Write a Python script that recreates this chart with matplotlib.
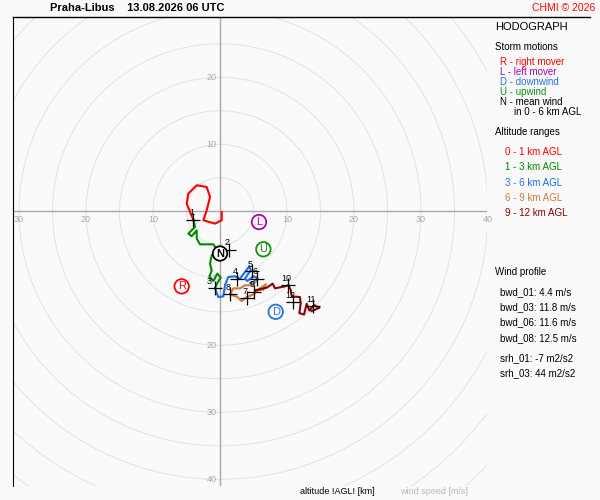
import matplotlib
matplotlib.use("Agg")
import matplotlib.pyplot as plt
import numpy as np

plt.rcParams["font.family"] = ["Liberation Sans", "DejaVu Sans"]

# hodograph segments (u, v) in m/s
seg_0_1_u = [0.25, 0.25, -0.75, -2.49, -1.99, -1.49, -1.99, -3.48, -4.73, -4.97, -4.48, -3.98]
seg_0_1_v = [-0.1, -1.34, -1.84, -1.34, 0.15, 2.14, 3.63, 3.88, 2.64, 1.15, -0.1, -1.24]
seg_1_3_u = [-3.98, -3.73, -4.73, -4.23, -3.48, -3.48, -2.99, -0.99, -0.5, -1.24, -1.49, -1.24,
             -1.59, -0.99, -0.4, 0.1, -0.4, -0.75]
seg_1_3_v = [-1.24, -2.34, -3.33, -3.73, -2.84, -4.08, -4.93, -4.93, -5.72, -6.57, -7.81, -8.81,
             -9.8, -10.4, -9.3, -9.9, -10.7, -11.5]
seg_3_6_u = [-0.75, -0.25, 0.5, 0.75, 1.24, 2.24, 2.99, 3.73, 4.38, 4.58, 3.73, 4.08, 4.98, 5.57,
             5.22, 4.48, 5.47]
seg_3_6_v = [-11.5, -12.8, -12.7, -11.0, -9.8, -9.7, -10.05, -9.06, -8.2, -8.8, -10.05, -10.4,
             -9.7, -9.9, -10.55, -10.7, -10.3]
seg_6_9_u = [5.47, 4.73, 3.73, 2.99, 1.99, 1.49, 2.58, 3.23, 3.98, 4.98, 5.97, 6.87, 6.47, 5.22]
seg_6_9_v = [-10.3, -11.04, -11.04, -11.5, -11.5, -12.4, -12.8, -13.4, -12.8, -12.4, -11.5,
             -10.9, -11.7, -11.8]
seg_9_12_u = [5.22, 6.97, 7.86, 8.21, 9.7, 10.2, 10.55, 10.7, 11.94, 12.04, 11.84, 12.54, 12.94,
              13.33, 14.03, 14.83, 13.68]
seg_9_12_v = [-11.8, -11.4, -10.8, -11.5, -11.2, -11.04, -11.7, -12.7, -12.8, -13.8, -15.2,
              -15.4, -13.8, -14.8, -14.0, -14.4, -14.9]

km_labels = ["1", "2", "3", "4", "5", "6", "7", "8", "9", "10", "11", "12"]
km_u = [-3.98, 1.39, -0.75, 2.58, 4.73, 5.47, 4.08, 1.49, 5.07, 10.2, 13.83, 10.85]
km_v = [-1.24, -5.72, -11.5, -10.05, -8.96, -10.05, -13.0, -12.4, -12.0, -11.04, -14.2, -13.6]

storm_names = ["R", "L", "U", "N", "D"]
storm_u = [-5.72, 5.82, 6.47, 0.0, 8.31]
storm_v = [-11.2, -1.6, -5.67, -6.3, -15.0]
storm_cols = ["#ff0000", "#b000b0", "#109010", "#000000", "#2870e0"]

seg_cols = ["#ff0000", "#008800", "#1e6ee6", "#d2783c", "#8b0000"]
segments = [(seg_0_1_u, seg_0_1_v), (seg_1_3_u, seg_1_3_v), (seg_3_6_u, seg_3_6_v),
            (seg_6_9_u, seg_6_9_v), (seg_9_12_u, seg_9_12_v)]

fig = plt.figure(figsize=(6, 5), dpi=100)
fig.patch.set_facecolor("#fafafa")
ax = fig.add_axes([13 / 600, 14 / 500, 474 / 600, 469 / 500])
ax.set_facecolor("#fafafa")
ax.set_xlim(-30.9, 39.85)
ax.set_ylim(-41.0, 29.0)
ax.set_aspect("auto")
for s in ["right", "bottom", "top"]:
    ax.spines[s].set_visible(False)
ax.spines["left"].set_color("black")
ax.set_xticks([]); ax.set_yticks([])

t = np.linspace(0, 2 * np.pi, 400)
for r in range(5, 75, 5):
    ax.plot(r * np.cos(t), r * np.sin(t), color="#e2e2e2", lw=0.7, zorder=1)
ax.axhline(0, color="#a8a8a8", lw=1, zorder=1)
ax.axvline(0, color="#a8a8a8", lw=1, zorder=1)
for k in [-30, -20, -10, 10, 20, 30, 40]:
    ax.text(k, -0.6, str(abs(k)), color="#a8a8a8", fontsize=6.5, ha="center", va="top")
for k in [-40, -30, -20, -10, 10, 20]:
    ax.text(-0.5, k, str(abs(k)), color="#a8a8a8", fontsize=6.5, ha="right", va="center")

for (su, sv), c in zip(segments, seg_cols):
    ax.plot(su, sv, color=c, lw=1.5, zorder=3)

ax.plot(km_u, km_v, "+", color="black", ms=10, mew=0.9, zorder=4)
for lab, u, v in zip(km_labels, km_u, km_v):
    dx = -0.8 if lab == "3" else -0.3
    ax.text(u + dx, v + 0.4, lab, fontsize=6.5, ha="center", va="bottom", zorder=5)

for n, u, v, c in zip(storm_names, storm_u, storm_v, storm_cols):
    ax.text(u, v, n, color=c, fontsize=8, ha="center", va="center", zorder=6,
            fontweight="bold" if n == "N" else "normal",
            bbox=dict(boxstyle="circle,pad=0.2", fc="white", ec=c, lw=1.3))

fig.lines.append(plt.Line2D([13 / 600, 590 / 600], [483 / 500, 483 / 500],
                            color="black", lw=1, transform=fig.transFigure))
fig.text(50 / 600, 1 - 8 / 500, "Praha-Libus    13.08.2026 06 UTC", fontsize=8,
         fontweight="bold", va="center")
fig.text(595 / 600, 1 - 8 / 500, "CHMI © 2026", color="red", fontsize=7.5, ha="right",
         va="center")

def txt(x, y, s, c="black", size=7):
    fig.text(x / 600, 1 - y / 500, s, color=c, fontsize=size, va="center")

txt(495, 27, "HODOGRAPH", size=8)
txt(495, 47, "Storm motions")
storm_legend = [("R - right mover", "#ff0000"), ("L - left mover", "#b000b0"),
                ("D - downwind", "#2870e0"), ("U - upwind", "#109010"),
                ("N - mean wind", "black")]
for i, (s, c) in enumerate(storm_legend):
    txt(500, 62 + 10 * i, s, c)
txt(514, 112, "in 0 - 6 km AGL")
txt(495, 132, "Altitude ranges")
alt_labels = ["0 - 1 km AGL", "1 - 3 km AGL", "3 - 6 km AGL", "6 - 9 km AGL", "9 - 12 km AGL"]
for i, (s, c) in enumerate(zip(alt_labels, seg_cols)):
    txt(505, 152 + 15.3 * i, s, c)

txt(495, 272, "Wind profile")
wp_labels = ["bwd_01: 4.4 m/s", "bwd_03: 11.8 m/s", "bwd_06: 11.6 m/s", "bwd_08: 12.5 m/s"]
for i, s in enumerate(wp_labels):
    txt(500, 292 + 15.3 * i, s)
txt(500, 358, "srh_01: -7 m2/s2")
txt(500, 373, "srh_03: 44 m2/s2")

txt(300, 492, "altitude !AGL! [km]", size=6.5)
txt(400, 492, "wind speed [m/s]", c="#b8b8b8", size=6.5)

fig.savefig("out.png", dpi=100, facecolor=fig.get_facecolor())
